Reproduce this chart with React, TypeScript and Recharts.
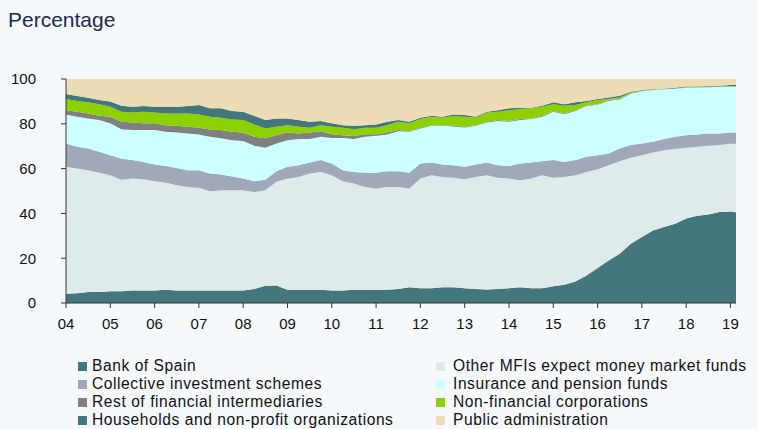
import React from 'react';
import { AreaChart, Area, XAxis, YAxis } from 'recharts';

// quarterly observations, Q1 2004 .. Q1 2019, plus the last month shown (Feb 2019)
const periods = [...Array.from({ length: 61 }, (_, i) => 2004 + i / 4), 2019.125];

const bankOfSpain = [
    4.1, 4.4, 4.9, 4.9, 5.3, 5.3, 5.6, 5.6, 5.6, 5.9, 5.6, 5.6, 5.6, 5.6, 5.6, 5.6,
    5.6, 6.2, 7.7, 7.8, 5.9, 5.9, 5.9, 5.9, 5.6, 5.6, 5.9, 5.9, 5.9, 5.9, 6.2,
    7.0, 6.6, 6.6, 7.0, 7.0, 6.6, 6.3, 6.0, 6.3, 6.6, 7.0, 6.6, 6.6, 7.5, 8.1,
    9.6, 12.3, 15.6, 19.0, 22.0, 26.5, 29.5, 32.4, 33.9, 35.4, 37.7, 38.9, 39.5, 40.6, 40.9, 40.5
];
const otherMFIs = [
    56.7, 55.6, 54.4, 53.3, 51.7, 49.7, 50.0, 49.7, 48.8, 47.9, 47.0, 46.2, 45.8, 44.3, 44.7, 44.7,
    44.7, 43.4, 42.6, 46.3, 49.7, 50.4, 51.9, 52.6, 51.4, 48.8, 47.4, 45.9, 45.2, 45.9, 45.6,
    44.1, 49.0, 50.4, 49.3, 48.9, 48.7, 50.0, 51.0, 49.6, 49.0, 47.8, 49.0, 50.4, 48.4, 48.2,
    47.4, 46.2, 44.1, 42.5, 41.3, 38.3, 36.5, 34.8, 34.3, 33.3, 31.6, 30.8, 30.7, 29.9, 30.2, 30.6
];
const collective = [
    10.4, 9.7, 9.7, 9.3, 9.0, 9.5, 8.2, 7.7, 7.4, 7.4, 7.7, 7.5, 7.9, 7.9, 7.1, 6.2,
    5.3, 4.8, 4.7, 4.7, 5.2, 5.2, 4.9, 5.3, 5.3, 4.9, 5.2, 6.4, 7.1, 7.0, 7.0,
    7.1, 6.7, 5.7, 5.5, 5.6, 5.5, 5.5, 5.7, 5.6, 5.6, 7.5, 7.1, 6.3, 7.9, 6.7,
    6.8, 6.8, 6.3, 5.2, 5.7, 5.7, 5.2, 4.8, 5.0, 5.5, 5.6, 5.5, 5.5, 5.2, 5.0, 5.0
];
const insurance = [
    13.0, 13.5, 13.4, 14.2, 14.2, 13.1, 13.4, 14.2, 15.4, 15.2, 15.8, 16.4, 15.9, 16.4, 16.1, 16.2,
    16.7, 15.8, 14.3, 12.4, 11.9, 11.7, 10.5, 10.4, 11.4, 14.4, 14.7, 16.0, 16.5, 16.4, 17.9,
    18.2, 15.6, 16.4, 17.3, 17.3, 17.6, 17.3, 17.9, 19.7, 19.7, 19.4, 19.4, 19.9, 21.6, 21.3,
    21.9, 22.6, 22.5, 23.6, 21.9, 22.9, 23.3, 23.1, 22.2, 21.4, 21.2, 21.0, 20.6, 20.8, 20.4, 20.4
];
const restFinancial = [
    1.9, 2.2, 2.2, 1.9, 3.0, 3.3, 3.4, 3.0, 3.0, 3.0, 3.0, 3.0, 3.0, 3.3, 3.7, 3.7,
    3.8, 4.0, 4.2, 3.7, 3.4, 2.5, 2.9, 2.5, 1.6, 1.2, 1.4, 1.1, 0.6, 0.9, 0.5,
    0.3, 0.3, 0.3, 0.3, 0.3, 0.3, 0.3, 0.3, 0.5, 0.3, 0.4, 0.3, 0.4, 0.3, 0.3,
    0.4, 0.2, 0.2, 0.3, 0.2, 0.2, 0.1, 0.1, 0.1, 0.1, 0.1, 0.1, 0.1, 0.1, 0.1, 0.1
];
const nonFinancial = [
    5.0, 4.8, 5.0, 5.1, 4.4, 4.5, 4.5, 5.2, 4.9, 5.2, 5.5, 5.9, 6.0, 5.7, 5.5, 5.5,
    5.6, 5.5, 4.4, 3.8, 3.3, 3.0, 2.1, 2.7, 3.4, 3.3, 3.0, 2.9, 2.9, 3.3, 3.7,
    3.5, 3.9, 3.8, 3.3, 4.4, 4.5, 3.3, 4.2, 3.7, 4.9, 4.5, 4.5, 4.0, 3.0, 3.5,
    2.3, 1.5, 1.9, 0.5, 0.6, 0.4, 0.3, 0.2, 0.2, 0.1, 0.2, 0.1, 0.2, 0.1, 0.3, 0.3
];
const households = [
    2.2, 2.2, 2.0, 1.9, 2.3, 2.7, 2.5, 2.5, 2.5, 3.0, 3.0, 3.3, 4.2, 3.7, 4.2, 3.8,
    3.7, 3.9, 3.8, 3.7, 3.0, 3.0, 2.7, 1.8, 1.5, 1.2, 1.5, 1.2, 1.5, 1.5, 0.8,
    0.7, 0.6, 0.4, 0.5, 0.7, 0.7, 0.5, 0.3, 0.7, 0.8, 0.6, 0.3, 0.5, 0.9, 0.6,
    1.2, 0.6, 0.5, 0.6, 0.8, 0.3, 0.2, 0.1, 0.1, 0.3, 0.2, 0.2, 0.3, 0.3, 0.4, 0.4
];
const publicAdmin = [
    6.7, 7.6, 8.4, 9.4, 10.1, 11.9, 12.4, 12.1, 12.4, 12.4, 12.4, 12.1, 11.6, 13.1, 13.1, 14.3,
    14.6, 16.4, 18.3, 17.6, 17.6, 18.3, 19.1, 18.8, 19.8, 20.6, 20.9, 20.6, 20.3, 19.1, 18.3,
    19.1, 17.3, 16.4, 16.8, 15.8, 16.1, 16.8, 14.6, 13.9, 13.1, 12.8, 12.8, 11.9, 10.4, 11.3,
    10.4, 9.8, 8.9, 8.3, 7.5, 5.7, 4.9, 4.5, 4.2, 3.9, 3.4, 3.4, 3.1, 3.0, 2.7, 2.7
];

const yearTicks = [2004, 2005, 2006, 2007, 2008, 2009, 2010, 2011, 2012, 2013, 2014, 2015, 2016, 2017, 2018, 2019];
const valueTicks = [0, 20, 40, 60, 80, 100];

// stacking order, bottom to top (also legend order, read row by row)
const SERIES = [
    { key: 'bankOfSpain', name: 'Bank of Spain', color: '#44777b', values: bankOfSpain },
    { key: 'otherMFIs', name: 'Other MFIs expect money market funds', color: '#dfeaeb', values: otherMFIs },
    { key: 'collective', name: 'Collective investment schemes', color: '#a0a8ba', values: collective },
    { key: 'insurance', name: 'Insurance and pension funds', color: '#ccffff', values: insurance },
    { key: 'restFinancial', name: 'Rest of financial intermediaries', color: '#808080', values: restFinancial },
    { key: 'nonFinancial', name: 'Non-financial corporations', color: '#8dd100', values: nonFinancial },
    { key: 'households', name: 'Households and non-profit organizations', color: '#44777b', values: households },
    { key: 'publicAdmin', name: 'Public administration', color: '#eedcb7', values: publicAdmin },
];

const data = periods.map((t, i) => {
    const row: any = { t };
    SERIES.forEach((s) => { row[s.key] = s.values[i]; });
    return row;
});

const FONT = '"Liberation Sans", Arial, sans-serif';
const BG = '#f5f9fb';

export default function App() {
    return (
        <div style={{ position: 'absolute', left: 0, top: 0, width: 757, height: 429, background: BG, overflow: 'hidden', fontFamily: FONT }}>
            <div style={{ position: 'absolute', left: 8, top: 8, fontSize: 21, color: '#1b2b4d', lineHeight: 'normal' }}>
                Percentage
            </div>

            <div style={{ position: 'absolute', left: 0, top: 0 }}>
                <AreaChart width={757} height={340} data={data} margin={{ top: 79, right: 21, bottom: 7, left: 0 }}>
                    <XAxis
                        dataKey="t"
                        type="number"
                        domain={[2004, 2019.125]}
                        ticks={yearTicks}
                        interval={0}
                        tickFormatter={(v: number) => String(v).slice(2)}
                        tickSize={5}
                        tickMargin={10}
                        height={30}
                        stroke="#333"
                        tick={{ fill: '#111', fontSize: 15, fontFamily: FONT }}
                    />
                    <YAxis
                        type="number"
                        domain={[0, 100]}
                        ticks={valueTicks}
                        allowDataOverflow
                        width={66}
                        tickSize={5}
                        tickMargin={25}
                        stroke="#333"
                        tick={{ fill: '#111', fontSize: 15, fontFamily: FONT }}
                    />
                    {SERIES.map((s) => (
                        <Area
                            key={s.key}
                            dataKey={s.key}
                            name={s.name}
                            stackId="1"
                            type="linear"
                            stroke="none"
                            fill={s.color}
                            fillOpacity={1}
                            dot={false}
                            activeDot={false}
                            isAnimationActive={false}
                        />
                    ))}
                </AreaChart>
            </div>

            {SERIES.map((s, i) => {
                const col = i % 2;
                const row = Math.floor(i / 2);
                const top = 357 + row * 18;
                const markerLeft = col === 0 ? 78 : 436;
                const textLeft = col === 0 ? 92 : 453;
                return (
                    <React.Fragment key={s.key}>
                        <div style={{ position: 'absolute', left: markerLeft, top: top + 5, width: 9, height: 9, background: s.color }} />
                        <div style={{ position: 'absolute', left: textLeft, top, height: 18, lineHeight: '18px', fontSize: 15.6, letterSpacing: 0.55, color: '#111', whiteSpace: 'nowrap' }}>
                            {s.name}
                        </div>
                    </React.Fragment>
                );
            })}
        </div>
    );
}
